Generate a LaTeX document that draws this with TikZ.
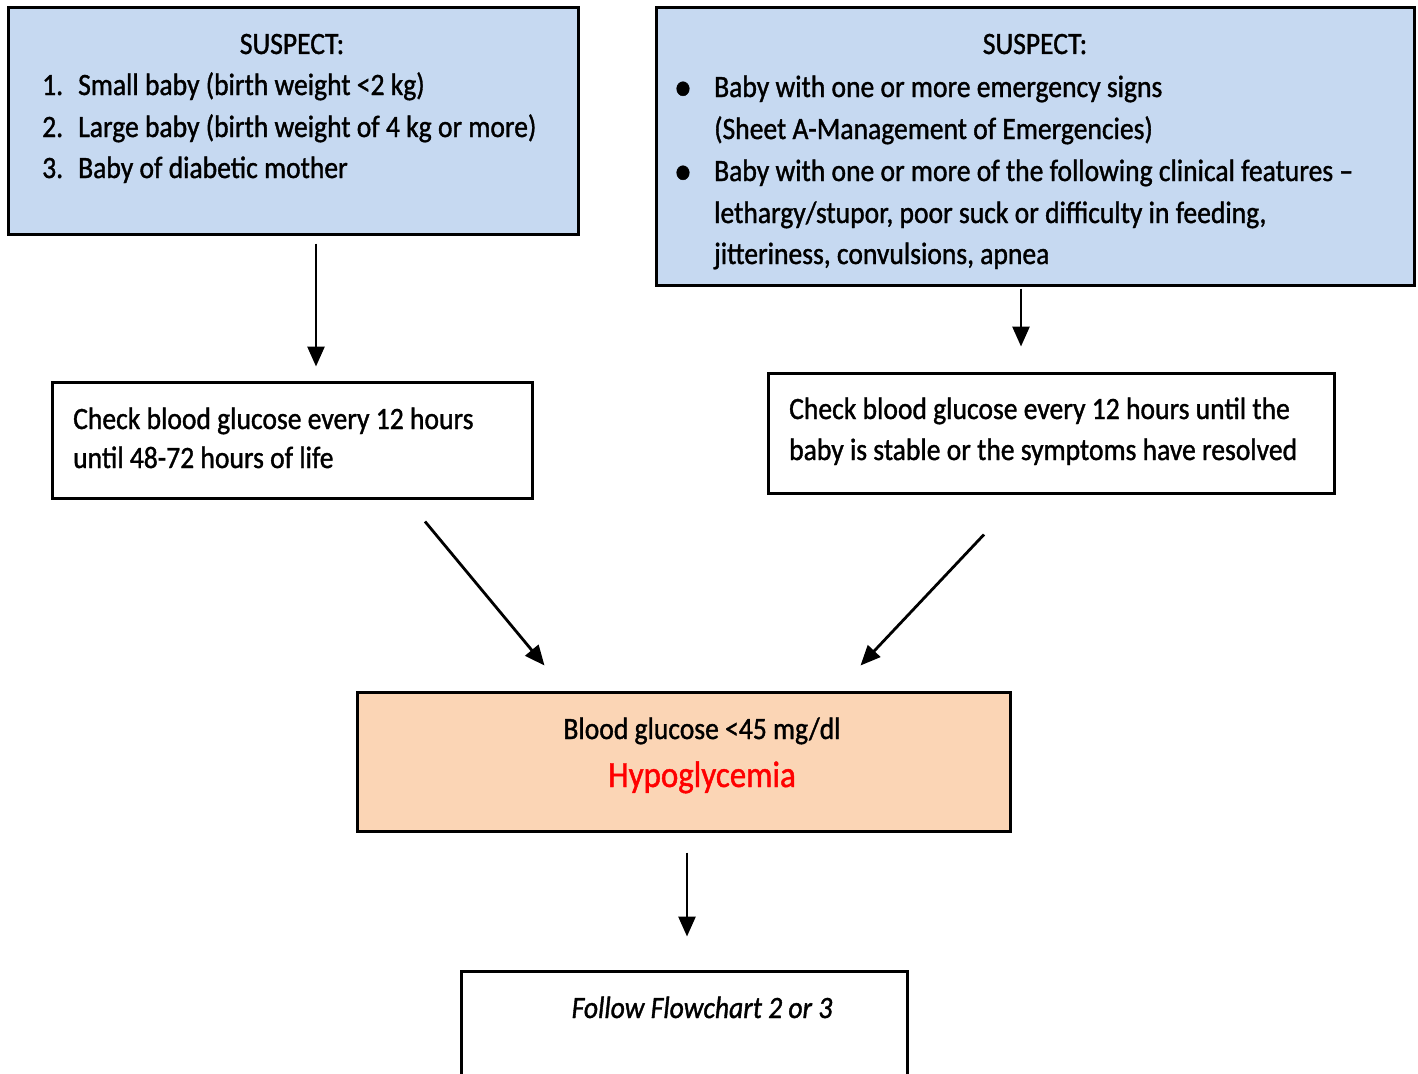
\documentclass[tikz,border=0pt]{standalone}
\usepackage{fontspec}
\setmainfont[FakeStretch=0.89,FakeBold=1.2]{Carlito}
\usetikzlibrary{arrows.meta,calc}
\definecolor{suspectblue}{HTML}{C6D9F1}
\definecolor{alertpeach}{HTML}{FBD5B5}
\definecolor{alertred}{HTML}{FF0000}
\begin{document}
\begin{tikzpicture}[x=1pt,y=-1pt,
  box/.style={draw=black,line width=3pt,inner sep=0pt,rectangle},
  txt/.style={inner sep=0pt,font=\fontsize{31}{41}\selectfont},
  ln/.style={txt,anchor=base west},
  ctr/.style={txt,anchor=base},
  bul/.style={inner sep=0pt,anchor=base,font=\fontsize{40}{40}\selectfont},
  arr/.style={line width=2.8pt,-{Triangle[length=20pt,width=17pt]}}]
\clip (0,0) rectangle (1418,1073);
\fill[white] (0,0) rectangle (1418,1073);

% boxes
\node[box,fill=suspectblue,minimum width=570pt,minimum height=226pt] (b1) at (293,121) {};
\node[box,fill=suspectblue,minimum width=758pt,minimum height=277pt] (b2) at (1035,146.5) {};
\node[box,fill=white,minimum width=480pt,minimum height=116pt] (b3) at (292,440) {};
\node[box,fill=white,minimum width=566pt,minimum height=120pt] (b4) at (1051,433) {};
\node[box,fill=alertpeach,minimum width=653pt,minimum height=139pt] (b5) at (683.5,761.5) {};
\node[box,fill=white,minimum width=446pt,minimum height=130pt] (b6) at (684,1036) {};

% left suspect box
\node[ctr] (s1) at (292,54) {SUSPECT:};
\node[ln] (n1) at (42,95) {1.};
\node[ln] (t1) at (78,95) {Small baby (birth weight <2 kg)};
\node[ln] (n2) at (42,137) {2.};
\node[ln] (t2) at (78,137) {Large baby (birth weight of 4 kg or more)};
\node[ln] (n3) at (42,178) {3.};
\node[ln] (t3) at (78,178) {Baby of diabetic mother};

% right suspect box
\node[ctr] (s2) at (1035,54) {SUSPECT:};
\node[bul] (d1) at (683,100) {•};
\node[ln] (u1) at (714,97) {Baby with one or more emergency signs};
\node[ln] (u2) at (714,139) {(Sheet A-Management of Emergencies)};
\node[bul] (d2) at (683,184) {•};
\node[ln] (u3) at (714,181) {Baby with one or more of the following clinical features –};
\node[ln] (u4) at (714,223) {lethargy/stupor, poor suck or difficulty in feeding,};
\node[ln] (u5) at (714,264) {jitteriness, convulsions, apnea};

% monitoring boxes
\node[ln] (c1) at (73,429) {Check blood glucose every 12 hours};
\node[ln] (c2) at (73,468) {until 48-72 hours of life};
\node[ln] (c3) at (789,419) {Check blood glucose every 12 hours until the};
\node[ln] (c4) at (789,460) {baby is stable or the symptoms have resolved};

% result box
\node[ctr] (g1) at (702,739) {Blood glucose <45 mg/dl};
\node[ctr,text=alertred,font=\fontsize{37}{44}\selectfont] (g2) at (702,787) {Hypoglycemia};

% next step
\node[ctr,font=\fontsize{31}{41}\selectfont\itshape] (f1) at (702,1018) {Follow Flowchart 2 or 3};

% connectors
\draw[arr] ([xshift=23pt,yshift=-8pt]b1.south) -- ([xshift=24pt,yshift=14pt]b3.north);
\draw[arr] ([xshift=-14pt,yshift=-2pt]b2.south) -- ([xshift=-30pt,yshift=25pt]b4.north);
\draw[arr] ([xshift=133pt,yshift=-22pt]b3.south) -- ([xshift=-139pt,yshift=25pt]b5.north);
\draw[arr] ([xshift=-67pt,yshift=-40pt]b4.south) -- ([xshift=177pt,yshift=25pt]b5.north);
\draw[arr] ([xshift=3.5pt,yshift=-20pt]b5.south) -- ([xshift=3pt,yshift=33pt]b6.north);
\end{tikzpicture}
\end{document}
